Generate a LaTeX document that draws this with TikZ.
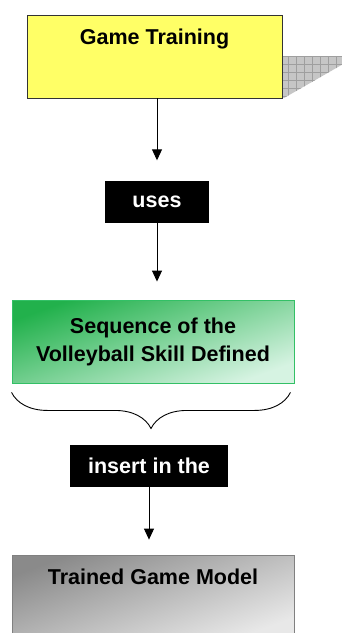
\documentclass[tikz,border=0pt]{standalone}
\usepackage{fontspec}
\setmainfont{Liberation Sans}
\usetikzlibrary{arrows.meta,decorations.pathreplacing}
\definecolor{boxyellow}{HTML}{FFFF66}
\definecolor{greendark}{HTML}{22B14C}
\definecolor{greenlight}{HTML}{D6F3E2}
\definecolor{greenline}{HTML}{33C066}
\definecolor{greydark}{HTML}{8A8A8A}
\definecolor{greylight}{HTML}{E8E8E8}
\begin{document}
\begin{tikzpicture}[x=1pt,y=-1pt,
  every node/.style={font=\fontsize{21.5}{28}\selectfont\bfseries},
  stagebox/.style={rectangle,inner sep=0pt,minimum width=255pt,minimum height=83pt},
  topbox/.style={stagebox,text height=29pt,text depth=54pt},
  tagbox/.style={rectangle,fill=black,text=white,inner sep=0pt,minimum height=42pt},
  flow/.style={line width=0.9pt,-{Triangle[width=10pt,length=11pt]}}]
\useasboundingbox (0,0) rectangle (341,633);
% shadow of the first box
\begin{scope}
\clip (282,56) -- (345,56) -- (345,63) -- (284,98) -- (282,98) -- cycle;
\fill[gray!45] (282,56) rectangle (345,98);
\draw[gray!75,line width=0.5pt,step=8pt] (282,56) grid (345,98);
\end{scope}
\node (game) [topbox,fill=boxyellow,draw=black!80,line width=0.8pt] at (154.5,56.5) {Game Training};
\node (uses) [tagbox,minimum width=104pt] at (157,201.5) {uses};
\node (skill) [stagebox,minimum width=282pt,align=center,draw=greenline,line width=0.9pt,
  top color=greendark,bottom color=greenlight,shading angle=20] at (153,341.5)
  {Sequence of the\\Volleyball Skill Defined};
\node (insert) [tagbox,minimum width=158pt] at (149,466) {insert in the};
\node (model) [topbox,minimum width=282pt,draw=gray,line width=0.8pt,
  top color=greydark,bottom color=greylight,shading angle=20] at (153,596.5) {Trained Game Model};
\draw [flow,shorten >=20pt] (game.south -| uses) -- (uses.north);
\draw [flow,shorten >=18pt] (uses.south) -- (uses.south |- skill.north);
\draw [line width=0.9pt,decorate,decoration={brace,mirror,amplitude=36pt}]
  ([yshift=-9pt]skill.south west) -- ([xshift=-4pt,yshift=-9pt]skill.south east);
\draw [flow,shorten >=15pt] (insert.south) -- (insert.south |- model.north);
\end{tikzpicture}
\end{document}
